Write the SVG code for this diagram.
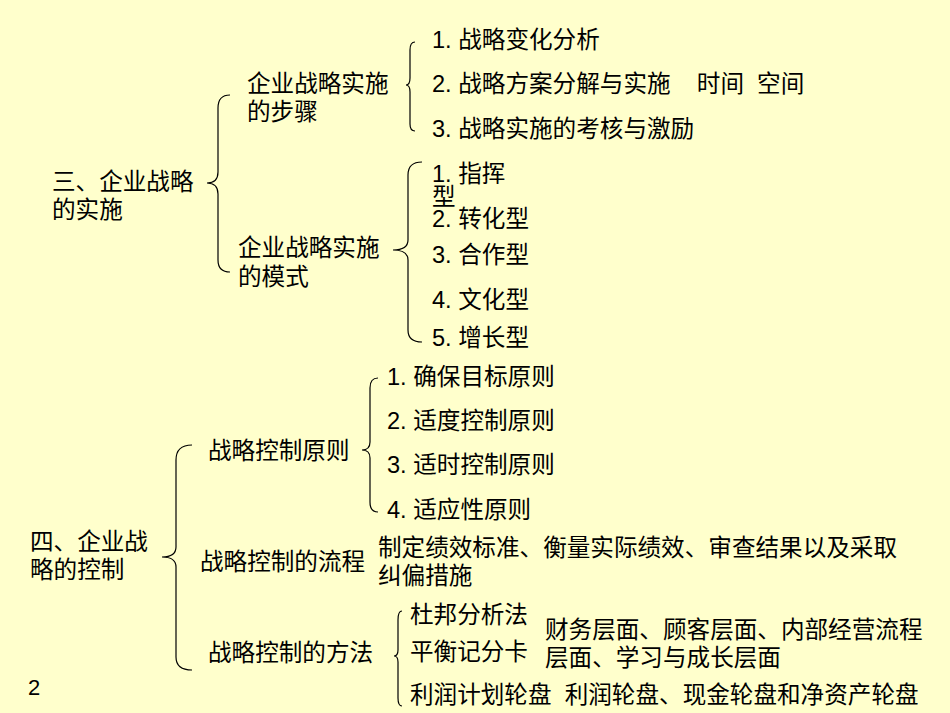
<svg xmlns="http://www.w3.org/2000/svg" width="950" height="713" viewBox="0 0 950 713">
<style>
text{font-family:"Liberation Sans","Noto Sans CJK SC",sans-serif;font-size:23.6px;fill:#000}
.b{fill:none;stroke:#000;stroke-width:1.2}
</style>
<rect width="950" height="713" fill="#FFFFCC"/>
<g id="connectors">
<path class="b" d="M230,95 Q218,95 218,108 L218,172 Q218,183 207,183 Q218,183 218,194 L218,260 Q218,272 230,272"/>
<path class="b" d="M415,42 Q410,42 410,50 L410,78 Q410,85 406,85 Q410,85 410,92 L410,124 Q410,131 415,131"/>
<path class="b" d="M422,162 Q408,162 408,175 L408,240 Q408,250 393,250 Q408,250 408,260 L408,330 Q408,342 422,342"/>
<path class="b" d="M378,378 Q370,378 370,388 L370,442 Q370,450 362,450 Q370,450 370,458 L370,502 Q370,512 378,512"/>
<path class="b" d="M192,445 Q176,445 176,460 L176,547 Q176,557 162,557 Q176,557 176,567 L176,657 Q176,670 192,670"/>
<path class="b" d="M402,611 Q398,611 398,620 L398,650 Q398,656 394,656 Q398,656 398,662 L398,698 Q398,706 402,706"/>
</g>
<g id="n_root1"><text x="52" y="190">三、企业战略</text><text x="52" y="218">的实施</text></g>
<g id="n_steps"><text x="247" y="92">企业战略实施</text><text x="247" y="120">的步骤</text></g>
<g id="n_s1"><text x="432" y="48">1. 战略变化分析</text></g>
<g id="n_s2"><text x="432" y="92" xml:space="preserve">2. 战略方案分解与实施    时间  空间</text></g>
<g id="n_s3"><text x="432" y="137">3. 战略实施的考核与激励</text></g>
<g id="n_modes"><text x="238" y="256">企业战略实施</text><text x="238" y="285">的模式</text></g>
<g id="n_m1"><text x="432" y="182">1. 指挥</text><text x="432" y="205">型</text></g>
<g id="n_m2"><text x="432" y="227">2. 转化型</text></g>
<g id="n_m3"><text x="432" y="263">3. 合作型</text></g>
<g id="n_m4"><text x="432" y="308">4. 文化型</text></g>
<g id="n_m5"><text x="432" y="346">5. 增长型</text></g>
<g id="n_root2"><text x="30" y="550">四、企业战</text><text x="30" y="578">略的控制</text></g>
<g id="n_prin"><text x="208" y="459">战略控制原则</text></g>
<g id="n_p1"><text x="387" y="385">1. 确保目标原则</text></g>
<g id="n_p2"><text x="387" y="429">2. 适度控制原则</text></g>
<g id="n_p3"><text x="387" y="473">3. 适时控制原则</text></g>
<g id="n_p4"><text x="387" y="518">4. 适应性原则</text></g>
<g id="n_flow"><text x="200" y="570">战略控制的流程</text></g>
<g id="n_flowd"><text x="378" y="556">制定绩效标准、衡量实际绩效、审查结果以及采取</text><text x="378" y="584">纠偏措施</text></g>
<g id="n_meth"><text x="208" y="661">战略控制的方法</text></g>
<g id="n_dupont"><text x="410" y="623">杜邦分析法</text></g>
<g id="n_bsc"><text x="410" y="660">平衡记分卡</text></g>
<g id="n_bscd"><text x="545" y="638">财务层面、顾客层面、内部经营流程</text><text x="545" y="666">层面、学习与成长层面</text></g>
<g id="n_wheel"><text x="410" y="703" xml:space="preserve">利润计划轮盘  利润轮盘、现金轮盘和净资产轮盘</text></g>
<text x="28" y="695" style="font-size:22px">2</text>
</svg>
